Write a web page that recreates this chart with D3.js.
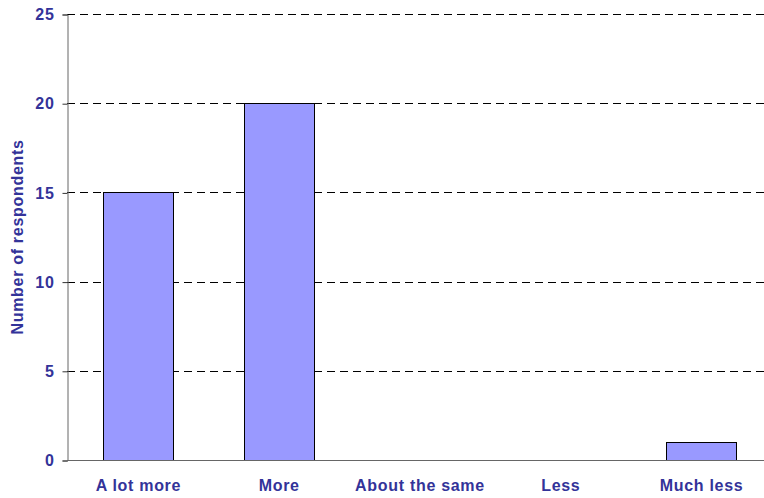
<!DOCTYPE html>
<html>
<head>
<meta charset="utf-8">
<script src="https://cdnjs.cloudflare.com/ajax/libs/d3/7.8.5/d3.min.js"></script>
<style>
  body { margin: 0; background: #fff; }
  text { font-family: Arial, "Liberation Sans", sans-serif; font-weight: bold; fill: #333399; letter-spacing: 0.7px; }
</style>
</head>
<body>
<div id="chart"></div>
<script>
var categories = ["A lot more", "More", "About the same", "Less", "Much less"];
var respondents = [15, 20, 0, 0, 1];
var yTicks = [0, 5, 10, 15, 20, 25];

var width = 764, height = 498;
var margin = { top: 14, left: 67, right: -8, bottom: 38 };

var svg = d3.select("#chart")
  .append("svg")
  .attr("width", width)
  .attr("height", height);

var x = d3.scaleBand()
  .domain(categories)
  .range([margin.left + 1, width - margin.right])
  .paddingInner(0.5)
  .paddingOuter(0.25);

var y = d3.scaleLinear()
  .domain([0, 25])
  .range([height - margin.bottom, margin.top]);

// dashed gridlines
svg.selectAll(".grid")
  .data(yTicks.filter(function (d) { return d > 0; }))
  .enter().append("line")
  .attr("class", "grid")
  .attr("x1", margin.left)
  .attr("x2", width)
  .attr("y1", function (d) { return Math.round(y(d)) + 0.5; })
  .attr("y2", function (d) { return Math.round(y(d)) + 0.5; })
  .attr("stroke", "#000")
  .attr("stroke-dasharray", "8,5");

// bars
svg.selectAll(".bar")
  .data(respondents)
  .enter().append("rect")
  .attr("class", "bar")
  .attr("x", function (d, i) { return Math.round(x(categories[i])) + 0.5; })
  .attr("width", Math.round(x.bandwidth()))
  .attr("y", function (d) { return Math.round(y(d)) + 0.5; })
  .attr("height", function (d) { return Math.round(y(0)) - Math.round(y(d)); })
  .attr("fill", "#9999FF")
  .attr("stroke", "#000")
  .attr("stroke-width", 1)
  .style("display", function (d) { return d > 0 ? null : "none"; });

// y axis
var yAxis = svg.append("g")
  .attr("transform", "translate(" + (margin.left + 0.5) + ",0.5)")
  .call(d3.axisLeft(y).tickValues(yTicks).tickSize(5).tickPadding(8));
yAxis.select(".domain").attr("stroke", "#666");
yAxis.selectAll(".tick line").attr("stroke", "#333");
yAxis.selectAll(".tick text")
  .style("font-size", "16px")
  .attr("fill", "#333399");

// x axis baseline
svg.append("line")
  .attr("x1", margin.left)
  .attr("x2", width)
  .attr("y1", Math.round(y(0)) + 0.5)
  .attr("y2", Math.round(y(0)) + 0.5)
  .attr("stroke", "#666");

// category labels
svg.selectAll(".xlabel")
  .data(categories)
  .enter().append("text")
  .attr("class", "xlabel")
  .attr("x", function (d) { return x(d) + x.bandwidth() / 2; })
  .attr("y", 491)
  .attr("text-anchor", "middle")
  .style("font-size", "16px")
  .text(function (d) { return d; });

// y title
svg.append("text")
  .attr("transform", "translate(23," + ((margin.top + height - margin.bottom) / 2) + ") rotate(-90)")
  .attr("text-anchor", "middle")
  .style("font-size", "16px")
  .text("Number of respondents");
</script>
</body>
</html>
